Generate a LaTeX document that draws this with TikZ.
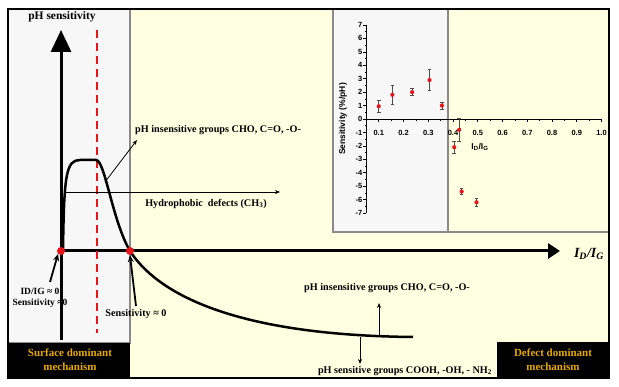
\documentclass[tikz,border=0pt]{standalone}
\usepackage{fontspec}
\setmainfont{Liberation Serif}
\setsansfont{Liberation Sans}
\usepackage{tikz}
\usetikzlibrary{arrows.meta,positioning,calc}
\definecolor{panelgray}{HTML}{F7F7F7}
\definecolor{bevelgray}{HTML}{8A8A8A}
\definecolor{bgyellow}{HTML}{FFFFE1}
\definecolor{mechgold}{HTML}{E8A800}
\definecolor{dotred}{HTML}{E8141B}

\tikzset{
  lbl/.style={font=\bfseries\fontsize{10.2}{11}\selectfont,inner sep=0pt},
  mech/.style={font=\bfseries\fontsize{11}{14}\selectfont,text=mechgold,align=center,inner sep=0pt},
  thinarrow/.style={-{Stealth[length=5pt,width=4pt]},line width=0.8pt},
  ptrarrow/.style={-{Stealth[length=7pt,width=6pt]},line width=1.8pt},
  ticklbl/.style={font=\sffamily\bfseries\fontsize{7.5}{8}\selectfont,inner sep=0pt},
  datum/.style={circle,fill=dotred,inner sep=0pt,minimum size=4.2pt},
}

\begin{document}
\begin{tikzpicture}[x=1pt,y=-1pt]
\useasboundingbox (0,0) rectangle (619,387);
\fill[white] (0,0) rectangle (619,387);
\fill[bgyellow] (8,9) rectangle (609,378);
\filldraw[fill=panelgray,draw=bevelgray,line width=1.5pt] (8,9) rectangle (130,343);
\filldraw[fill=panelgray,draw=bevelgray,line width=1.5pt] (333,9) rectangle (448,232);
\draw[bevelgray,line width=1.5pt] (448,232) -- (609,232);
\fill[black] (8,343) rectangle (130,378);
\fill[black] (497,342) rectangle (609,378);
\draw[line width=2pt] (8,9) rectangle (609,378);
\node[mech] (surf) at (70,360) {Surface dominant\\mechanism};
\node[mech] (defect) at (553,360) {Defect dominant\\mechanism};

% inset plot
\begin{scope}[shift={(354,119)},x=247.5pt,y=13.43pt]
\draw[line width=0.8pt] (0.05,0) coordinate (xa) -- (1.0,0) coordinate (xb);
\draw[line width=0.8pt] (0.05,-7) coordinate (ya) -- (0.05,7) coordinate (yb);
\foreach \i in {1,...,19}
  \draw[line width=0.6pt] (\i/20+0.05,0) -- ++(0pt,{-1.8pt-1.2pt*mod(\i,2)});
\foreach \i in {1,...,9}
  \node[ticklbl] (xt\i) at (\i/10,-1.05) {0.\i};
\node[ticklbl] (xt10) at (1.0,-1.05) {1.0};
\foreach \s in {-7,...,7}{
  \draw[line width=0.6pt] (0.05,\s) -- ++(-3pt,0pt);
  \node[ticklbl,anchor=east] (yt\s) at ($(0.05,\s)+(-4pt,0pt)$) {\s};}
\foreach \s in {-6.5,-5.5,...,6.5}
  \draw[line width=0.6pt] (0.05,\s) -- ++(-1.8pt,0pt);
\node[ticklbl,font=\sffamily\bfseries\fontsize{8.5}{9}\selectfont,rotate=90] (senslbl) at (-0.045,0) {Sensitivity (\%/pH)};
\node[ticklbl,font=\sffamily\bfseries\fontsize{8.5}{9}\selectfont] (inidig) at (0.509,-2.1) {I\textsubscript{D}/I\textsubscript{G}};
\foreach \v/\s/\e [count=\k] in {0.1/0.95/0.5,0.155/1.8/0.7,0.235/2.0/0.3,0.305/2.9/0.8,0.355/1.0/0.3,0.405/-2.1/0.45,0.425/-0.8/0.9,0.435/-5.4/0.25,0.495/-6.2/0.3}{
  \draw[gray!60!black,line width=0.7pt,{Bar[width=3.5pt]}-{Bar[width=3.5pt]}] (\v,\s-\e) -- (\v,\s+\e);
  \node[datum] (d\k) at (\v,\s) {};}
\end{scope}

% labels under axes
\node[lbl,font=\bfseries\fontsize{9.5}{11}\selectfont,align=center] (orglbl) at (40,298) {ID/IG ≈ 0\\Sensitivity ≈0};
\node[lbl] (senszero) at (136,314) {Sensitivity ≈ 0};

% axes
\coordinate (O) at (61,251);
\coordinate (ytop) at (61,30);
\coordinate (ybot) at (61,340);
\coordinate (xend) at (560,251);
\draw[line width=3pt,-{Triangle[length=22pt,width=20pt]}] (ybot) -- (ytop);
\draw[line width=3pt,-{Triangle[length=12pt,width=15pt]}] (O) -- (xend);
\node[font=\bfseries\itshape\fontsize{14}{16}\selectfont,inner sep=0pt] (xlbl) at (589,254) {I\textsubscript{D}/I\textsubscript{G}};
\node[lbl,font=\bfseries\fontsize{11.5}{13}\selectfont] (ylbl) at (62,17) {pH sensitivity};

\coordinate (dtop) at (97,30);
\coordinate (dbot) at (97,333);
\draw[dotred,line width=2pt,dash pattern=on 8pt off 5pt] (dtop) -- (dbot);

% response curve
\draw[line width=2.5pt] (63,251) .. controls (64,175) and (66,160) .. (80,160) -- (96,160)
  .. controls (105,160) and (112,220) .. (130,251) .. controls (150,282) and (210,335) .. (413,337);

\node[datum,minimum size=8pt] (p0) at (O) {};
\node[datum,minimum size=8pt] (p1) at (130,251) {};

% annotations
\node[lbl,anchor=west] (insens) at (135,130) {pH insensitive groups CHO, C=O, -O-};
\coordinate (insA) at (105,182);
\draw[thinarrow] (insA) -- (137,140);
\coordinate (hydA) at (66,192);
\coordinate (hydB) at (280,192);
\draw[thinarrow] (hydA) -- (hydB);
\node[lbl] (hydro) at (206,204) {Hydrophobic\ \ defects (CH\textsubscript{3})};
\coordinate (orgA) at (50,282);
\draw[ptrarrow] (orgA) -- (p0.south west);
\coordinate (zeroA) at (136,306);
\draw[ptrarrow] (zeroA) -- (p1.south);

\node[lbl] (insens2) at (387,288) {pH insensitive groups CHO, C=O, -O-};
\coordinate (upA) at (379,337);
\coordinate (upB) at (379,303);
\draw[thinarrow] (upA) -- (upB);
\coordinate (dnA) at (360,337);
\coordinate (dnB) at (360,364);
\draw[thinarrow] (dnA) -- (dnB);
\node[lbl] (sens2) at (405,371) {pH sensitive groups COOH, -OH, - NH\textsubscript{2}};
\end{tikzpicture}
\end{document}
